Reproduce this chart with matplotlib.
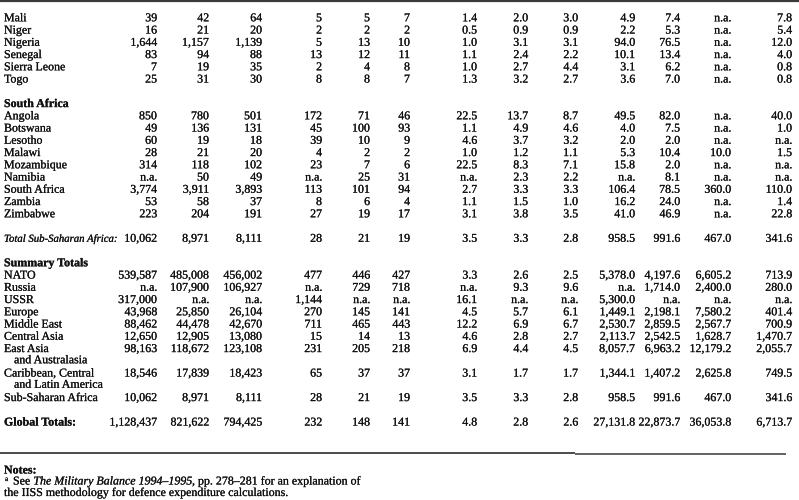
import matplotlib
matplotlib.use("Agg")
import matplotlib.pyplot as plt
import matplotlib.patheffects as pe

# ---------------- data ----------------
west_africa = ["Mali", "Niger", "Nigeria", "Senegal", "Sierra Leone", "Togo"]
west_values = [
    ["39", "42", "64", "5", "5", "7", "1.4", "2.0", "3.0", "4.9", "7.4", "n.a.", "7.8"],
    ["16", "21", "20", "2", "2", "2", "0.5", "0.9", "0.9", "2.2", "5.3", "n.a.", "5.4"],
    ["1,644", "1,157", "1,139", "5", "13", "10", "1.0", "3.1", "3.1", "94.0", "76.5", "n.a.", "12.0"],
    ["83", "94", "88", "13", "12", "11", "1.1", "2.4", "2.2", "10.1", "13.4", "n.a.", "4.0"],
    ["7", "19", "35", "2", "4", "8", "1.0", "2.7", "4.4", "3.1", "6.2", "n.a.", "0.8"],
    ["25", "31", "30", "8", "8", "7", "1.3", "3.2", "2.7", "3.6", "7.0", "n.a.", "0.8"],
]

south_header = "South Africa"
south_africa = ["Angola", "Botswana", "Lesotho", "Malawi", "Mozambique", "Namibia",
                "South Africa", "Zambia", "Zimbabwe"]
south_values = [
    ["850", "780", "501", "172", "71", "46", "22.5", "13.7", "8.7", "49.5", "82.0", "n.a.", "40.0"],
    ["49", "136", "131", "45", "100", "93", "1.1", "4.9", "4.6", "4.0", "7.5", "n.a.", "1.0"],
    ["60", "19", "18", "39", "10", "9", "4.6", "3.7", "3.2", "2.0", "2.0", "n.a.", "n.a."],
    ["28", "21", "20", "4", "2", "2", "1.0", "1.2", "1.1", "5.3", "10.4", "10.0", "1.5"],
    ["314", "118", "102", "23", "7", "6", "22.5", "8.3", "7.1", "15.8", "2.0", "n.a.", "n.a."],
    ["n.a.", "50", "49", "n.a.", "25", "31", "n.a.", "2.3", "2.2", "n.a.", "8.1", "n.a.", "n.a."],
    ["3,774", "3,911", "3,893", "113", "101", "94", "2.7", "3.3", "3.3", "106.4", "78.5", "360.0", "110.0"],
    ["53", "58", "37", "8", "6", "4", "1.1", "1.5", "1.0", "16.2", "24.0", "n.a.", "1.4"],
    ["223", "204", "191", "27", "19", "17", "3.1", "3.8", "3.5", "41.0", "46.9", "n.a.", "22.8"],
]

ssa_total_label = "Total Sub-Saharan Africa:"
ssa_total_values = ["10,062", "8,971", "8,111", "28", "21", "19", "3.5", "3.3", "2.8",
                    "958.5", "991.6", "467.0", "341.6"]

summary_header = "Summary Totals"
summary_labels = [["NATO"], ["Russia"], ["USSR"], ["Europe"], ["Middle East"], ["Central Asia"],
                  ["East Asia", "and Australasia"],
                  ["Caribbean, Central", "and Latin America"],
                  ["Sub-Saharan Africa"]]
summary_values = [
    ["539,587", "485,008", "456,002", "477", "446", "427", "3.3", "2.6", "2.5", "5,378.0", "4,197.6", "6,605.2", "713.9"],
    ["n.a.", "107,900", "106,927", "n.a.", "729", "718", "n.a.", "9.3", "9.6", "n.a.", "1,714.0", "2,400.0", "280.0"],
    ["317,000", "n.a.", "n.a.", "1,144", "n.a.", "n.a.", "16.1", "n.a.", "n.a.", "5,300.0", "n.a.", "n.a.", "n.a."],
    ["43,968", "25,850", "26,104", "270", "145", "141", "4.5", "5.7", "6.1", "1,449.1", "2,198.1", "7,580.2", "401.4"],
    ["88,462", "44,478", "42,670", "711", "465", "443", "12.2", "6.9", "6.7", "2,530.7", "2,859.5", "2,567.7", "700.9"],
    ["12,650", "12,905", "13,080", "15", "14", "13", "4.6", "2.8", "2.7", "2,113.7", "2,542.5", "1,628.7", "1,470.7"],
    ["98,163", "118,672", "123,108", "231", "205", "218", "6.9", "4.4", "4.5", "8,057.7", "6,963.2", "12,179.2", "2,055.7"],
    ["18,546", "17,839", "18,423", "65", "37", "37", "3.1", "1.7", "1.7", "1,344.1", "1,407.2", "2,625.8", "749.5"],
    ["10,062", "8,971", "8,111", "28", "21", "19", "3.5", "3.3", "2.8", "958.5", "991.6", "467.0", "341.6"],
]

global_label = "Global Totals:"
global_values = ["1,128,437", "821,622", "794,425", "232", "148", "141", "4.8", "2.8", "2.6",
                 "27,131.8", "22,873.7", "36,053.8", "6,713.7"]

notes_title = "Notes:"
note_line1 = [("See ", "normal"), ("The Military Balance 1994\u20131995", "italic"),
              (", pp. 278\u2013281 for an explanation of", "normal")]
note_line2 = "the IISS methodology for defence expenditure calculations."

# ---------------- layout ----------------
W, H = 799, 500
FAM = ["Liberation Serif", "DejaVu Serif"]
FS = 8.6
COL = "#111111"
col_right = [157, 209, 262, 322, 370, 410, 477, 528, 578, 635, 680, 731, 792]
x_label = 4
x_indent = 14
y0 = 17.5
step = 12.25
base_off = 3.8
THICK = [pe.withStroke(linewidth=0.15, foreground=COL)]

fig = plt.figure(figsize=(W / 100, H / 100), dpi=100)
ax = fig.add_axes([0, 0, 1, 1])
ax.set_xlim(0, W)
ax.set_ylim(H, 0)
ax.axis("off")


def yrow(i):
    return y0 + i * step + base_off


def put(x, y, s, ha="left", weight="normal", style="normal", size=FS):
    return ax.text(x, y, s, ha=ha, va="baseline", fontsize=size, family=FAM,
                   fontweight=weight, fontstyle=style, color=COL, path_effects=THICK)


def put_values(i, vals):
    for x, v in zip(col_right, vals):
        put(x, yrow(i), v, ha="right")


# top rule (partial from scan)
ax.plot([0, W], [1.2, 1.2], color="#3a3a3a", lw=1.6, solid_capstyle="butt")

row = 0
for name, vals in zip(west_africa, west_values):
    put(x_label, yrow(row), name)
    put_values(row, vals)
    row += 1

row += 1
put(x_label, yrow(row), south_header, weight="bold")
row += 1
for name, vals in zip(south_africa, south_values):
    put(x_label, yrow(row), name)
    put_values(row, vals)
    row += 1

row += 1
put(x_label, yrow(row), ssa_total_label, style="italic", size=FS * 0.9)
put_values(row, ssa_total_values)
row += 2

put(x_label, yrow(row), summary_header, weight="bold")
row += 1
for labels, vals in zip(summary_labels, summary_values):
    put(x_label, yrow(row), labels[0])
    put_values(row, vals)
    row += 1
    for extra in labels[1:]:
        put(x_indent, yrow(row) - 1.0, extra)
        row += 1

row += 1
put(x_label, yrow(row), global_label, weight="bold")
put_values(row, global_values)

# bottom rule
ax.plot([0, 575], [453, 453], color="#1a1a1a", lw=1.1, solid_capstyle="butt")
ax.plot([575, 786], [453.6, 453.6], color="#555555", lw=1.3, solid_capstyle="butt")

# notes
put(x_label, 473.5, notes_title, weight="bold")
fig.canvas.draw()
renderer = fig.canvas.get_renderer()
inv = ax.transData.inverted()
put(x_label + 1, 481.0, "a", size=FS * 0.6)
x = x_label + 9
for txt, sty in note_line1:
    t = put(x, 484.5, txt, style=sty)
    bb = t.get_window_extent(renderer)
    x = inv.transform((bb.x1, bb.y1))[0]
put(x_label, 496.0, note_line2)

fig.savefig("out.png", dpi=100)
